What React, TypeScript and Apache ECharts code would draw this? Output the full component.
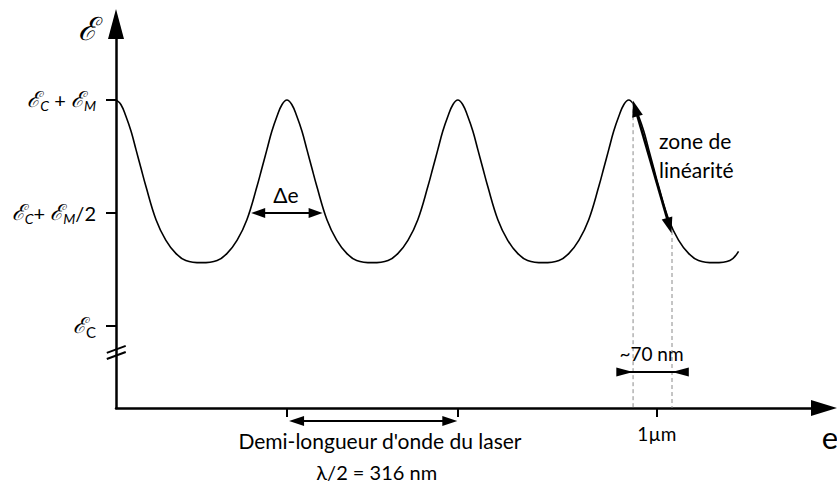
import React, { useEffect, useRef } from "react";
import * as echarts from "echarts";

// ---- axis ranges (nm on x, normalised signal on y: 0 = EC, 0.5 = EC+EM/2, 1 = EC+EM)
const X_MAX = 1309;
const Y_MIN = -0.363;
const Y_MAX = 1.336;

// ---- curve
const curveX = [
  0, 9, 18, 28, 37, 46, 55, 74, 92, 111, 129, 158, 187, 205, 224, 242, 261, 270, 279, 288, 298, 307, 316,
  325, 334, 344, 353, 362, 371, 390, 408, 427, 445, 474, 503, 521, 540, 558, 577, 586, 595, 604, 614, 623, 632,
  641, 650, 660, 669, 678, 687, 706, 724, 743, 761, 790, 819, 837, 856, 874, 893, 902, 911, 920, 930, 939, 948,
  957, 966, 976, 985, 994, 1003, 1022, 1040, 1059, 1077, 1106, 1135, 1151,
];
const curveY = [
  1.0, 0.98, 0.93, 0.86, 0.78, 0.7, 0.62, 0.47, 0.38, 0.32, 0.29, 0.28, 0.29, 0.32, 0.38, 0.47, 0.62, 0.7, 0.78, 0.86, 0.93, 0.98, 1.0,
  0.98, 0.93, 0.86, 0.78, 0.7, 0.62, 0.47, 0.38, 0.32, 0.29, 0.28, 0.29, 0.32, 0.38, 0.47, 0.62, 0.7, 0.78, 0.86, 0.93, 0.98, 1.0,
  0.98, 0.93, 0.86, 0.78, 0.7, 0.62, 0.47, 0.38, 0.32, 0.29, 0.28, 0.29, 0.32, 0.38, 0.47, 0.62, 0.7, 0.78, 0.86, 0.93, 0.98, 1.0,
  0.98, 0.93, 0.86, 0.78, 0.7, 0.62, 0.47, 0.38, 0.32, 0.29, 0.28, 0.29, 0.33,
];

// ---- ticks
const yTickValues = [0, 0.5, 1];
const yTickLabels = [
  "{e|ℰ}{c|C}",
  "{e|ℰ}{s|C}{t|+ }{e|ℰ}{s|M}{t|/2}",
  "{e|ℰ}{s|C}{t| + }{e|ℰ}{s|M}",
];
const xTickValues = [316, 632, 1000];
const xLabelValues = [1000];
const xLabelTexts = ["1µm"];

// ---- annotations (data units)
const deltaEArrow = [[250, 0.5], [382, 0.5]];
const linearityArrow = [[956, 0.996], [1027, 0.41]];
const dashedLines = [
  [[956, 0.99], [956, Y_MIN]],
  [[1028, 0.42], [1028, Y_MIN]],
];
const widthArrowY = -0.204;
const widthArrowX = [925, 956, 1028, 1059];
const halfWaveArrow = [[320, -0.42], [631, -0.42]];
const axisBreak = [
  [[-17, -0.119], [18, -0.088]],
  [[-17, -0.146], [18, -0.115]],
];

const texts = [
  { t: "Δe", at: [314, 0.58], size: 21, align: "center" },
  { t: "zone de\nlinéarité", at: [1004, 0.757], size: 21, align: "left", lh: 29 },
  { t: "~70 nm", at: [990, -0.122], size: 19, align: "center" },
  { t: "Demi-longueur d'onde du laser", at: [488, -0.509], size: 21, align: "center" },
  { t: "λ/2 = 316 nm", at: [482, -0.646], size: 20, align: "center" },
  { t: "e", at: [1320, -0.49], size: 31, align: "center" },
];
const axisTitle = { t: "ℰ", at: [-52, 1.314] };

const FONT = "Lato";

export default function App() {
  const ref = useRef<HTMLDivElement>(null);

  useEffect(() => {
    if (!ref.current) return;
    const chart = echarts.init(ref.current, undefined, { renderer: "svg" });
    const data = curveX.map((x, i) => [x, curveY[i]]);

    chart.setOption({
      animation: false,
      backgroundColor: "#fff",
      grid: { left: 116, right: 13, top: 24, bottom: 79 },
      xAxis: {
        type: "value",
        min: 0,
        max: X_MAX,
        splitLine: { show: false },
        axisLine: {
          onZero: false,
          symbol: ["none", "triangle"],
          symbolSize: [16, 26],
          lineStyle: { color: "#000", width: 2.5 },
        },
        axisTick: {
          show: true,
          customValues: xTickValues,
          length: 9,
          inside: false,
          lineStyle: { color: "#000", width: 2 },
        },
        axisLabel: {
          customValues: xLabelValues,
          formatter: (v: number) => xLabelTexts[xLabelValues.indexOf(v)] ?? "",
          margin: 16,
          color: "#000",
          fontFamily: FONT,
          fontSize: 19,
        },
      },
      yAxis: {
        type: "value",
        min: Y_MIN,
        max: Y_MAX,
        splitLine: { show: false },
        axisLine: {
          onZero: false,
          symbol: ["none", "triangle"],
          symbolSize: [16, 30],
          lineStyle: { color: "#000", width: 2.5 },
        },
        axisTick: {
          show: true,
          customValues: yTickValues,
          length: 10,
          inside: false,
          lineStyle: { color: "#000", width: 2 },
        },
        axisLabel: {
          customValues: yTickValues,
          formatter: (v: number) => {
            const i = yTickValues.findIndex((t) => Math.abs(t - v) < 1e-6);
            return i >= 0 ? yTickLabels[i] : "";
          },
          margin: 20,
          color: "#000",
          rich: {
            e: { fontFamily: "DejaVu Serif", fontStyle: "italic", fontSize: 22, color: "#000" },
            s: { fontFamily: FONT, fontStyle: "italic", fontSize: 14, color: "#000", padding: [12, 0, 0, 0] },
            c: { fontFamily: FONT, fontSize: 15, color: "#000", padding: [12, 0, 0, 0] },
            t: { fontFamily: FONT, fontSize: 20, color: "#000" },
          },
        },
      },
      series: [
        {
          type: "line",
          data,
          smooth: 0.4,
          symbol: "none",
          clip: false,
          lineStyle: { color: "#000", width: 1.6 },
        },
      ],
    });

    const px = (p: number[]) => chart.convertToPixel({ gridIndex: 0 }, p) as number[];

    const head = (tip: number[], from: number[], len: number, half: number) => {
      const dx = tip[0] - from[0];
      const dy = tip[1] - from[1];
      const d = Math.hypot(dx, dy);
      const ux = dx / d, uy = dy / d;
      const bx = tip[0] - ux * len, by = tip[1] - uy * len;
      return {
        type: "polygon",
        z: 10,
        shape: { points: [tip, [bx - uy * half, by + ux * half], [bx + uy * half, by - ux * half]] },
        style: { fill: "#000" },
      };
    };
    const doubleArrow = (a: number[], b: number[], w: number, len: number, half: number) => {
      const dx = b[0] - a[0], dy = b[1] - a[1];
      const d = Math.hypot(dx, dy);
      const ux = dx / d, uy = dy / d;
      return [
        {
          type: "line",
          z: 10,
          shape: { x1: a[0] + ux * len * 0.5, y1: a[1] + uy * len * 0.5, x2: b[0] - ux * len * 0.5, y2: b[1] - uy * len * 0.5 },
          style: { stroke: "#000", lineWidth: w },
        },
        head(a, b, len, half),
        head(b, a, len, half),
      ];
    };

    const graphics: any[] = [];
    // dashed guide lines
    dashedLines.forEach(([p, q]) => {
      const a = px(p), b = px(q);
      graphics.push({
        type: "line",
        z: 5,
        shape: { x1: a[0], y1: a[1], x2: b[0], y2: b[1] },
        style: { stroke: "#8a8a8a", lineWidth: 1, lineDash: [4, 3] },
      });
    });
    graphics.push(...doubleArrow(px(deltaEArrow[0]), px(deltaEArrow[1]), 2, 14, 5));
    graphics.push(...doubleArrow(px(linearityArrow[0]), px(linearityArrow[1]), 2.5, 16, 5.5));
    graphics.push(...doubleArrow(px(halfWaveArrow[0]), px(halfWaveArrow[1]), 2, 15, 5));
    // ~70 nm : arrows pointing inwards
    {
      const p0 = px([widthArrowX[0], widthArrowY]);
      const p1 = px([widthArrowX[1], widthArrowY]);
      const p2 = px([widthArrowX[2], widthArrowY]);
      const p3 = px([widthArrowX[3], widthArrowY]);
      graphics.push({
        type: "line",
        z: 10,
        shape: { x1: p0[0] + 4, y1: p0[1], x2: p3[0] - 4, y2: p3[1] },
        style: { stroke: "#000", lineWidth: 2 },
      });
      graphics.push(head(p1, p0, p1[0] - p0[0], 4.5));
      graphics.push(head(p2, p3, p3[0] - p2[0], 4.5));
    }
    // axis break
    axisBreak.forEach(([p, q]) => {
      const a = px(p), b = px(q);
      graphics.push({
        type: "line",
        z: 10,
        shape: { x1: a[0], y1: a[1], x2: b[0], y2: b[1] },
        style: { stroke: "#000", lineWidth: 2 },
      });
    });
    // texts
    texts.forEach((t) => {
      const p = px(t.at);
      graphics.push({
        type: "text",
        z: 10,
        x: p[0],
        y: p[1],
        style: {
          text: t.t,
          fill: "#000",
          font: `${t.size}px ${FONT}`,
          align: t.align,
          verticalAlign: "middle",
          lineHeight: t.lh ?? t.size * 1.2,
        },
      });
    });
    {
      const p = px(axisTitle.at);
      graphics.push({
        type: "text",
        z: 10,
        x: p[0],
        y: p[1],
        style: {
          text: axisTitle.t,
          fill: "#000",
          font: "italic 32px 'DejaVu Serif'",
          align: "center",
          verticalAlign: "middle",
        },
      });
    }
    chart.setOption({ graphic: { elements: graphics } });

    return () => chart.dispose();
  }, []);

  return (
    <div
      ref={ref}
      style={{ position: "absolute", left: 0, top: 0, width: 837, height: 487 }}
    />
  );
}
